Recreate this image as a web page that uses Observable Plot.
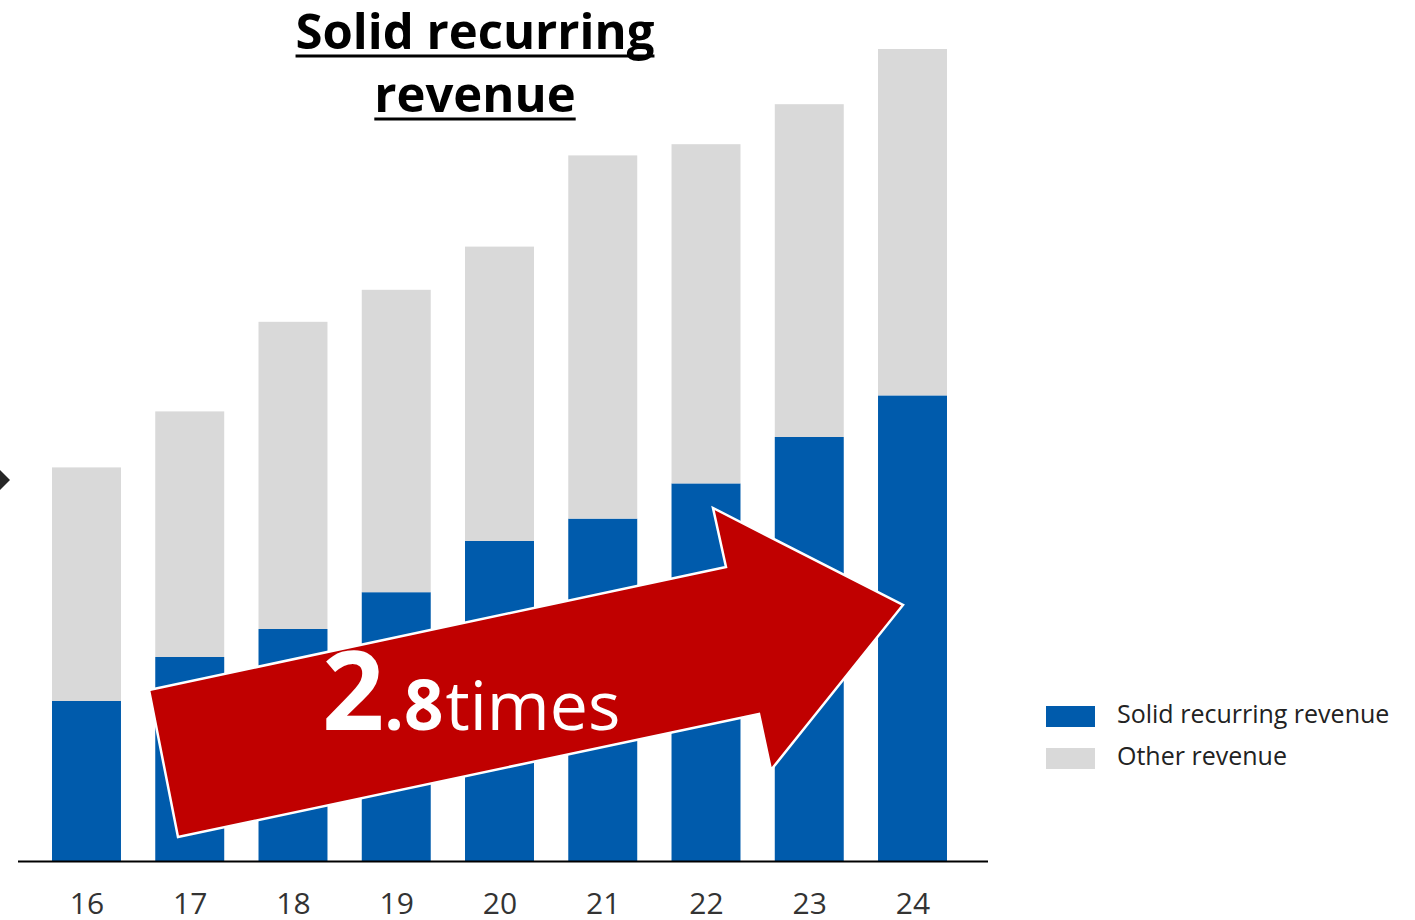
<!DOCTYPE html>
<html>
<head>
<meta charset="utf-8">
<script src="https://cdn.jsdelivr.net/npm/d3@7"></script>
<script src="https://cdn.jsdelivr.net/npm/@observablehq/plot@0.6"></script>
<style>
  body { margin: 0; background: #fff; }
  #chart svg { display: block; }
</style>
</head>
<body>
<div id="chart"></div>
<script>
// Fiscal years (last two digits)
const years = ["16", "17", "18", "19", "20", "21", "22", "23", "24"];
// Revenue index, FY16 solid recurring revenue = 100
const solidRecurring = [100, 127.5, 145, 168, 200, 214, 236, 265, 291];
const otherRevenue = [146, 153.5, 192, 189, 184, 227, 212, 208, 216.5];

const seriesNames = ["Solid recurring revenue", "Other revenue"];
const seriesColors = ["#005BAC", "#D9D9D9"];
const titleLines = ["Solid recurring", "revenue"];
const growthWhole = "2";
const growthFraction = ".8";
const growthUnit = "times";

const rows = years.flatMap((year, i) => [
  {year, series: seriesNames[0], value: solidRecurring[i]},
  {year, series: seriesNames[1], value: otherRevenue[i]}
]);

const font = "'Open Sans', 'Noto Sans', sans-serif";

const chart = Plot.plot({
  width: 1415,
  height: 920,
  marginLeft: 52,
  marginRight: 468,
  marginTop: 49,
  marginBottom: 59,
  style: {fontFamily: font, background: "#fff", overflow: "visible"},
  x: {domain: years, paddingInner: 0.332, paddingOuter: 0, round: false, label: null},
  y: {domain: [0, 507.5], axis: null},
  color: {domain: seriesNames, range: seriesColors},
  marks: [
    Plot.barY(rows, {x: "year", y: "value", fill: "series"}),
    Plot.ruleY([0], {stroke: "#000", strokeWidth: 2, insetLeft: -34, insetRight: -41}),
    Plot.axisX({tickSize: 0, tickPadding: 31, fontSize: 30, color: "#333", label: null})
  ]
});

document.getElementById("chart").appendChild(chart);

const svg = d3.select(chart);
const ann = svg.append("g").attr("class", "annotations").attr("text-anchor", "start");

// Small dark chevron at the left edge
ann.append("polygon")
  .attr("points", "-2,468 10,480 -2,492")
  .attr("fill", "#262626");

// Growth arrow
const arrow = [[149, 690], [726, 567], [713, 508], [903, 605], [771, 770], [759, 714], [178, 837]];
ann.append("polygon")
  .attr("points", arrow.map(p => p.join(",")).join(" "))
  .attr("fill", "#C00000")
  .attr("stroke", "#fff")
  .attr("stroke-width", 2.5)
  .attr("stroke-linejoin", "miter");

const growth = ann.append("text")
  .attr("x", 322)
  .attr("y", 730)
  .attr("text-anchor", "start")
  .attr("fill", "#fff")
  .attr("font-family", font);
growth.append("tspan").attr("font-size", 109).attr("font-weight", 700).text(growthWhole);
growth.append("tspan").attr("font-size", 69).attr("font-weight", 700).text(growthFraction);
growth.append("tspan").attr("font-size", 68).attr("font-weight", 400).attr("dx", 2).text(growthUnit);

// Title, bold and underlined
const titleBaselines = [49, 112];
titleLines.forEach((line, i) => {
  const t = ann.append("text")
    .attr("x", 475)
    .attr("y", titleBaselines[i])
    .attr("text-anchor", "middle")
    .attr("font-family", font)
    .attr("font-weight", 700)
    .attr("font-size", 49)
    .attr("fill", "#000")
    .text(line);
  const w = t.node().getComputedTextLength();
  ann.append("line")
    .attr("x1", 475 - w / 2)
    .attr("x2", 475 + w / 2)
    .attr("y1", titleBaselines[i] + 7)
    .attr("y2", titleBaselines[i] + 7)
    .attr("stroke", "#000")
    .attr("stroke-width", 3);
});

// Legend
const legendY = [706, 748];
seriesNames.forEach((name, i) => {
  ann.append("rect")
    .attr("x", 1046).attr("y", legendY[i])
    .attr("width", 49).attr("height", 21)
    .attr("fill", seriesColors[i]);
  ann.append("text")
    .attr("x", 1117).attr("y", legendY[i] + 17)
    .attr("text-anchor", "start")
    .attr("font-family", font)
    .attr("font-size", 25)
    .attr("fill", "#222")
    .text(name);
});
</script>
</body>
</html>
